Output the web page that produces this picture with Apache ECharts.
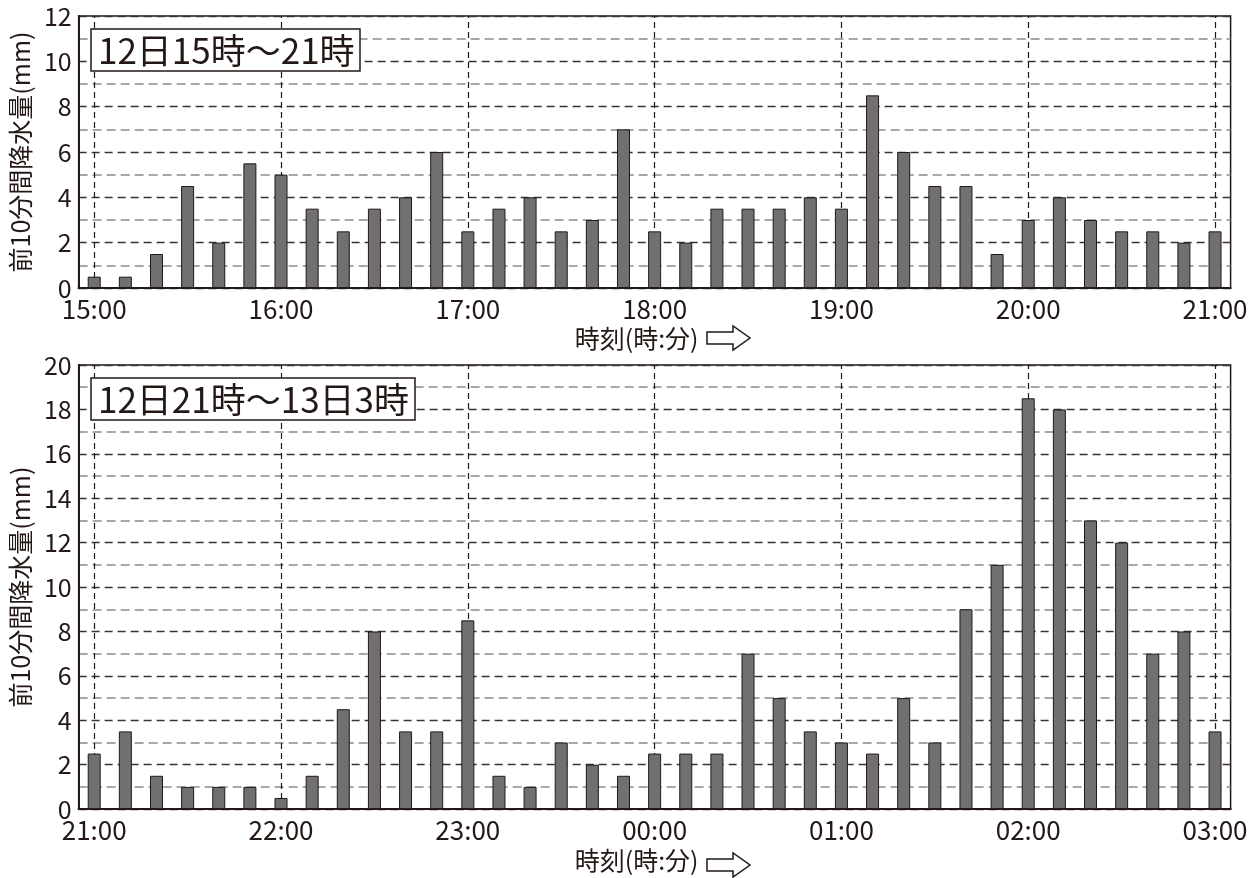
<!DOCTYPE html>
<html><head><meta charset="utf-8">
<script src="https://cdn.jsdelivr.net/npm/echarts@6/dist/echarts.min.js"></script>
<style>html,body{margin:0;padding:0;background:#fff}#c{width:1258px;height:878px}</style>
</head><body><div id="c"></div>
<script>
const timesTop = ["15:00","15:10","15:20","15:30","15:40","15:50","16:00","16:10","16:20","16:30","16:40","16:50","17:00","17:10","17:20","17:30","17:40","17:50","18:00","18:10","18:20","18:30","18:40","18:50","19:00","19:10","19:20","19:30","19:40","19:50","20:00","20:10","20:20","20:30","20:40","20:50","21:00"];
const rainTop = [0.5,0.5,1.5,4.5,2,5.5,5,3.5,2.5,3.5,4,6,2.5,3.5,4,2.5,3,7,2.5,2,3.5,3.5,3.5,4,3.5,8.5,6,4.5,4.5,1.5,3,4,3,2.5,2.5,2,2.5];
const hoursTop = ["15:00","16:00","17:00","18:00","19:00","20:00","21:00"];

const timesBottom = ["21:00","21:10","21:20","21:30","21:40","21:50","22:00","22:10","22:20","22:30","22:40","22:50","23:00","23:10","23:20","23:30","23:40","23:50","00:00","00:10","00:20","00:30","00:40","00:50","01:00","01:10","01:20","01:30","01:40","01:50","02:00","02:10","02:20","02:30","02:40","02:50","03:00"];
const rainBottom = [2.5,3.5,1.5,1,1,1,0.5,1.5,4.5,8,3.5,3.5,8.5,1.5,1,3,2,1.5,2.5,2.5,2.5,7,5,3.5,3,2.5,5,3,9,11,18.5,18,13,12,7,8,3.5];
const hoursBottom = ["21:00","22:00","23:00","00:00","01:00","02:00","03:00"];

const titleTop = "12日15時～21時";
const titleBottom = "12日21時～13日3時";
const yName = "前10分間降水量(mm)";
const xName = "時刻(時:分)";

const INK = '#231815';
const FONT = '"Noto Sans CJK JP", "Noto Sans", sans-serif';

function xAxis(gi, cats) {
  return {
    type: 'category', gridIndex: gi, data: cats, boundaryGap: true,
    axisLine: {lineStyle: {color: INK, width: 2.2}},
    axisTick: {show: false},
    axisLabel: {interval: 5, color: INK, fontSize: 26, fontFamily: FONT, margin: 8},
    splitLine: {show: false},
    name: xName, nameLocation: 'middle', nameGap: 38,
    nameTextStyle: {color: INK, fontSize: 25, fontFamily: FONT, padding: [0, 36, 0, 0]}
  };
}
function yAxis(gi, max) {
  return {
    type: 'value', gridIndex: gi, min: 0, max: max, interval: 2,
    axisLine: {show: true, lineStyle: {color: INK, width: 2}},
    axisTick: {show: false},
    axisLabel: {color: INK, fontSize: 25, fontFamily: FONT, margin: 7},
    splitLine: {show: true, lineStyle: {color: '#3a3334', type: [8, 5], width: 1.3}},
    minorTick: {show: false, splitNumber: 2},
    minorSplitLine: {show: true, lineStyle: {color: '#8a8a8a', type: [9, 5], width: 1.6}},
    name: yName, nameLocation: 'middle', nameGap: 44,
    nameTextStyle: {color: INK, fontSize: 25, fontFamily: FONT}
  };
}
function bars(gi, vals) {
  return {
    type: 'bar', xAxisIndex: gi, yAxisIndex: gi, data: vals, barWidth: 13, z: 3,
    itemStyle: {color: '#707070', borderColor: INK, borderWidth: 1},
    silent: true
  };
}
function hourLines(gi, hours) {
  return {
    type: 'line', xAxisIndex: gi, yAxisIndex: gi, data: [], z: 1, silent: true,
    markLine: {
      silent: true, symbol: 'none', label: {show: false}, z: 1,
      lineStyle: {color: INK, type: [6, 4], width: 1.2},
      data: hours.map(h => ({xAxis: h}))
    }
  };
}

const chart = echarts.init(document.getElementById('c'));
const tStyle = {color: INK, fontSize: 35, fontWeight: 'normal', fontFamily: FONT};
chart.setOption({
  backgroundColor: '#fff',
  animation: false,
  title: [
    {text: titleTop, left: 91, top: 29, padding: [4, 6, 3, 7], borderColor: INK, borderWidth: 1.5, backgroundColor: '#fff', textStyle: tStyle},
    {text: titleBottom, left: 91, top: 378, padding: [4, 6, 3, 7], borderColor: INK, borderWidth: 1.5, backgroundColor: '#fff', textStyle: tStyle}
  ],
  grid: [
    {left: 74.4, right: 27.4, top: 16, height: 272, show: true, borderColor: INK, borderWidth: 1.5, backgroundColor: 'transparent'},
    {left: 74.4, right: 27.4, top: 365, height: 450, show: true, borderColor: INK, borderWidth: 1.5, backgroundColor: 'transparent'}
  ],
  xAxis: [xAxis(0, timesTop), xAxis(1, timesBottom)],
  yAxis: [yAxis(0, 12), yAxis(1, 20)],
  series: [hourLines(0, hoursTop), bars(0, rainTop), hourLines(1, hoursBottom), bars(1, rainBottom)],
  graphic: [
    {type: 'polygon', silent: true, shape: {points: [[707,332],[733,332],[733,326],[750,338],[733,350],[733,344],[707,344]]},
     style: {fill: '#fff', stroke: INK, lineWidth: 1.5}},
    {type: 'polygon', silent: true, shape: {points: [[707,859],[733,859],[733,853],[750,865],[733,877],[733,871],[707,871]]},
     style: {fill: '#fff', stroke: INK, lineWidth: 1.5}}
  ]
});
</script></body></html>
